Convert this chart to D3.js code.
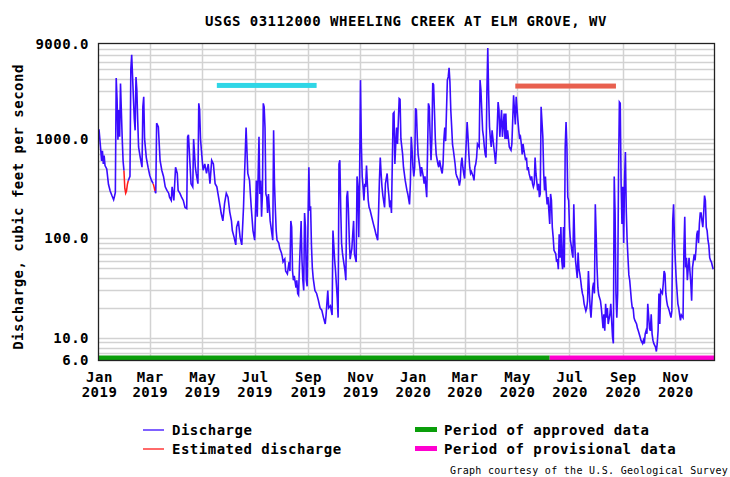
<!DOCTYPE html>
<html lang="en">
<head>
<meta charset="UTF-8">
<title>USGS 03112000 Wheeling Creek at Elm Grove, WV</title>
<style>
  body { margin: 0; background: #fff; }
  svg { display: block; }
  .lbl { font-family: "DejaVu Sans Mono", monospace; font-weight: bold; font-size: 14px; letter-spacing: 0.5px; fill: #000; }
  .small { font-family: "DejaVu Sans Mono", monospace; font-size: 10px; letter-spacing: 0.3px; fill: #000; }
</style>
</head>
<body>
<svg id="chart" width="730" height="477"></svg>
<script src="https://d3js.org/d3.v7.min.js"></script>
<script>
// daily discharge, [day since 2019-01-01, cfs]; null = gap where estimated values apply
var discharge2019 = [
  [0,1250],[2,780],[3,600],[4,760],[5,560],[6,680],[7,540],[9,500],[11,350],[13,300],[15,270],[17,245],[18,265],[19,290],
  [20,4100],[21,2500],[22,980],[23,1950],[24,1050],[25,3600],[26,1900],[27,1000],[28,600],[29,480],[30,null],
  [34,380],[35,400],[36,420],[37,5000],[38,7000],[39,4300],[40,2600],[41,1600],[42,1220],[43,4200],[44,3100],[45,1540],
  [46,830],[48,650],[50,520],[51,2100],[52,2650],[53,1000],[55,650],[57,520],[59,430],[61,383],[63,355],[64,null],
  [65,300],[66,285],[67,1440],[69,1320],[71,610],[73,485],[75,420],[77,330],[79,304],[81,285],[82,260],[84,241],
  [85,330],[87,241],[89,520],[91,450],[92,304],[94,285],[96,260],[98,241],[100,205],[102,200],[103,1050],[104,1100],
  [106,520],[107,355],[109,330],[110,1000],[112,520],[113,450],[115,355],[116,2280],[117,1950],[118,1000],[120,610],
  [121,485],[123,560],[125,450],[127,560],[129,355],[131,610],[133,560],[135,355],[137,330],[139,260],[141,205],
  [142,180],[144,150],[146,225],[148,285],[150,260],[152,185],[154,150],[155,120],[157,103],[159,86],[160,130],
  [162,150],[164,103],[166,86],[168,205],[169,383],[171,1300],[173,450],[175,383],[177,205],[179,120],[181,96],
  [183,383],[184,165],[186,1050],[187,280],[188,383],[189,165],[190,280],[191,2280],[192,2100],[193,1300],[194,280],
  [195,260],[196,180],[197,280],[199,150],[200,130],[202,96],[203,1220],[204,355],[205,200],[206,120],[207,96],
  [209,90],[210,80],[212,72],[213,66],[214,58],[216,62],[217,47],[219,44],[221,58],[222,47],[223,150],[224,130],
  [225,47],[226,38],[227,42],[229,32],[230,38],[231,28],[232,27],[233,51],[235,150],[236,60],[237,38],[238,30],
  [239,180],[240,130],[241,38],[242,33],[243,150],[244,520],[245,190],[246,210],[247,85],[248,51],[249,40],[251,30],
  [253,28],[255,24],[257,20],[259,19],[261,16],[263,13.8],[264,17],[266,30],[267,20],[269,21],[271,17],[272,120],
  [274,60],[275,47],[277,25],[278,16],[279,560],[280,610],[281,205],[282,90],[283,72],[284,62],[286,47],[287,38],
  [288,260],[289,300],[290,190],[291,96],[292,62],[294,80],[295,110],[296,150],[297,70],[299,58],[300,420],[301,330],
  [302,103],[303,420],[304,3900],[305,890],[306,420],[307,330],[308,241],[309,355],[310,330],[311,540],[312,355],
  [313,241],[314,205],[315,195],[317,165],[319,140],[321,120],[322,110],[324,96],[325,180],[326,383],[327,650],
  [328,450],[329,330],[330,270],[332,205],[333,355],[335,450],[336,330],[337,270],[338,205],[339,241],[340,180],
  [342,1800],[343,1850],[344,560],[345,890],[346,1300],[347,890],[348,1500],[349,2550],[350,2500],[351,1000],
  [353,700],[354,520],[356,383],[358,304],[359,280],[361,220],[362,355],[363,1050]
];
var discharge2020 = [
  [364,770],[365,520],[366,420],[367,520],[368,2030],[369,1950],[370,1050],[371,700],[373,520],[374,420],[375,520],
  [377,420],[378,355],[379,420],[380,330],[381,260],[383,2280],[384,2100],[385,1050],[386,610],[387,1000],[388,3650],
  [389,3500],[390,1900],[391,1000],[392,700],[394,560],[395,520],[396,610],[398,485],[399,450],[400,560],[401,1000],
  [402,1300],[403,950],[405,3900],[406,4200],[407,5200],[408,3700],[409,1945],[410,1330],[411,880],[412,770],
  [414,560],[415,450],[416,420],[418,383],[419,340],[420,383],[421,560],[422,650],[423,520],[424,450],[425,400],
  [426,610],[428,1480],[429,1050],[430,700],[431,520],[432,450],[433,470],[435,420],[436,383],[437,520],[438,560],
  [439,650],[440,890],[442,830],[443,3900],[444,3100],[446,1220],[447,1050],[448,830],[449,700],[450,650],[451,3100],
  [452,8200],[453,2800],[454,1330],[455,1000],[456,830],[457,1220],[458,1000],[459,830],[460,700],[461,560],[462,770],
  [463,1330],[464,2350],[465,1950],[466,1050],[467,1450],[468,1950],[469,1050],[471,1800],[472,1000],[473,1800],
  [474,1000],[475,1220],[476,1000],[477,830],[479,770],[480,890],[482,2750],[483,1950],[484,1400],[485,2650],
  [487,1540],[488,1220],[489,1000],[490,1050],[491,890],[492,700],[493,890],[494,770],[496,610],[497,650],[498,485],
  [499,520],[500,450],[502,383],[503,420],[504,355],[505,330],[506,355],[507,650],[508,450],[510,304],[511,355],
  [512,260],[513,280],[514,2100],[516,1050],[517,450],[518,304],[519,420],[520,285],[521,220],[522,260],[523,190],
  [524,140],[525,280],[526,241],[527,130],[528,103],[529,76],[531,70],[532,58],[533,62],[534,49],[535,110],[536,64],
  [537,130],[538,60],[539,49],[540,130],[541,51],[542,830],[543,1480],[544,830],[545,260],[546,241],[547,130],
  [548,96],[549,85],[550,72],[551,64],[552,220],[553,96],[554,60],[555,49],[556,40],[557,72],[558,49],[559,44],
  [560,38],[561,32],[562,28],[563,26],[564,22],[566,18.7],[567,20],[568,23.6],[569,47],[570,30],[571,20],[572,16],
  [574,32],[575,36],[576,28],[577,220],[578,110],[579,51],[580,32],[581,27],[583,23.6],[584,20],[585,16],[586,12.5],
  [587,17.3],[588,11.8],[589,22],[590,16],[591,20],[592,13.8],[594,17.3],[595,22],[596,15],[597,10.3],[598,8.8],
  [599,420],[600,180],[601,28],[602,16],[603,28],[604,450],[605,2350],[606,2280],[607,355],[608,140],[609,330],
  [610,90],[611,383],[612,740],[613,190],[614,96],[615,64],[616,43],[617,38],[618,30],[619,23.6],[620,20],[621,20],
  [622,16],[623,15],[625,13.8],[626,12.5],[627,11.8],[628,11],[629,10.3],[630,9.5],[632,8.8],[633,9.5],[634,8.8],
  [635,11],[636,11.8],[637,11],[638,22],[640,12.5],[641,11.8],[642,17.3],[643,11],[644,9.5],[645,8.8],[647,8.1],
  [648,7.3],[649,8.8],[650,11.8],[651,28],[652,13.8],[653,30],[655,28],[656,35],[657,47],[658,44],[659,28],[660,23.6],
  [661,21],[662,20],[663,18.7],[664,17.3],[665,16],[666,18.7],[667,150],[668,220],[669,103],[670,60],[671,40],
  [673,22],[674,20],[675,17],[676,15],[677,17],[679,16],[680,76],[681,165],[682,51],[683,64],[684,38],[685,50],
  [686,64],[687,47],[688,36],[689,23.6],[690,51],[692,69],[693,60],[694,76],[695,110],[696,120],[697,90],[698,140],
  [699,180],[700,180],[701,150],[702,130],[703,180],[704,270],[705,240],[706,130],[707,120],[708,96],[709,85],
  [710,64],[711,60],[712,58],[714,49]
];
// estimated discharge (red)
var estimatedJan = [[29,480],[30,320],[31,285],[32,300],[33,350],[34,380]];
var estimatedMar = [[63,355],[64,330],[65,300]];

var recordDays = 715;
var tickDates = ["2019-01-01","2019-03-01","2019-05-01","2019-07-01","2019-09-01","2019-11-01",
                 "2020-01-01","2020-03-01","2020-05-01","2020-07-01","2020-09-01","2020-11-01"];
var yTicks = [6, 10, 100, 1000, 9000];
var approvedPeriod = ["2019-01-01", "2020-06-08"];
var provisionalPeriod = ["2020-06-08", "2020-12-17"];
// highlight bars drawn over the graph: [start day, end day, cfs level]
var highlightBars = [[137, 253, 3450], [484, 601, 3400]];
var highlightColors = ["#2fd6e6", "#e8604f"];
var legendLines = ["Discharge", "Estimated discharge"];
var legendBars = ["Period of approved data", "Period of provisional data"];

var svg = d3.select("#chart");
var parse = d3.timeParse("%Y-%m-%d");
var start = parse("2019-01-01");
var toDate = function(d) { return d3.timeDay.offset(start, d); };

var plotLeft = 99, plotRight = 714, plotTop = 44, plotBottom = 360;

var x = d3.scaleTime()
    .domain([start, toDate(recordDays)])
    .range([plotLeft, plotRight]);
var y = d3.scaleLog()
    .domain([6, 9000])
    .range([plotBottom, plotTop]);

svg.append("rect").attr("width", 730).attr("height", 477).attr("fill", "#fff");

// grid
var grid = svg.append("g").attr("stroke", "#d2d2d2").attr("stroke-width", 1.5);
grid.selectAll("line.h")
    .data(y.ticks().filter(function(v) { return v > 6 && v < 9000; }))
    .enter().append("line")
    .attr("class", "h")
    .attr("x1", plotLeft).attr("x2", plotRight)
    .attr("y1", function(d) { return Math.round(y(d)) + 0.5; })
    .attr("y2", function(d) { return Math.round(y(d)) + 0.5; });
grid.selectAll("line.v")
    .data(tickDates.slice(1).map(parse))
    .enter().append("line")
    .attr("class", "v")
    .attr("y1", plotTop).attr("y2", plotBottom)
    .attr("x1", function(d) { return Math.round(x(d)) + 0.5; })
    .attr("x2", function(d) { return Math.round(x(d)) + 0.5; });

// highlight bars
svg.selectAll("rect.hl")
    .data(highlightBars)
    .enter().append("rect")
    .attr("class", "hl")
    .attr("x", function(d) { return x(toDate(d[0])); })
    .attr("width", function(d) { return x(toDate(d[1])) - x(toDate(d[0])); })
    .attr("y", function(d) { return y(d[2]) - 2.5; })
    .attr("height", 5)
    .attr("fill", function(d, i) { return highlightColors[i]; });

// discharge lines
var line = d3.line()
    .defined(function(d) { return d[1] != null; })
    .x(function(d) { return x(toDate(d[0])); })
    .y(function(d) { return y(d[1]); });

svg.append("path")
    .datum(discharge2019.concat(discharge2020))
    .attr("fill", "none")
    .attr("stroke", "#3a0cff")
    .attr("stroke-width", 1.6)
    .attr("d", line);

[estimatedJan, estimatedMar].forEach(function(seg) {
    svg.append("path")
        .datum(seg)
        .attr("fill", "none")
        .attr("stroke", "#ff1a1a")
        .attr("stroke-width", 1.5)
        .attr("d", line);
});

// approval period bars along the bottom
svg.append("rect")
    .attr("x", x(parse(approvedPeriod[0])))
    .attr("width", x(parse(approvedPeriod[1])) - x(parse(approvedPeriod[0])))
    .attr("y", plotBottom - 4.5).attr("height", 4.5)
    .attr("fill", "#0a9e0a");
svg.append("rect")
    .attr("x", x(parse(provisionalPeriod[0])))
    .attr("width", x(parse(provisionalPeriod[1])) - x(parse(provisionalPeriod[0])))
    .attr("y", plotBottom - 4.5).attr("height", 4.5)
    .attr("fill", "#ff00d0");

// frame
svg.append("rect")
    .attr("x", plotLeft - 0.5).attr("y", plotTop - 0.5)
    .attr("width", plotRight - plotLeft + 1).attr("height", plotBottom - plotTop + 1)
    .attr("fill", "none")
    .attr("stroke", "#222")
    .attr("stroke-width", 1.3);

// y axis
var yAxis = svg.append("g")
    .attr("transform", "translate(" + plotLeft + ",0)")
    .call(d3.axisLeft(y).tickValues(yTicks).tickFormat(d3.format(".1f")).tickSize(0).tickPadding(10));
yAxis.select(".domain").remove();
yAxis.selectAll("text").attr("class", "lbl");
yAxis.attr("font-family", null).attr("font-size", null);

// x axis, month over year
var xAxis = svg.append("g")
    .attr("transform", "translate(0," + plotBottom + ")")
    .call(d3.axisBottom(x).tickValues(tickDates.map(parse)).tickSize(0).tickFormat(""));
xAxis.select(".domain").remove();
xAxis.attr("font-family", null).attr("font-size", null);
xAxis.selectAll(".tick text").remove();
xAxis.selectAll(".tick").each(function(d) {
    var t = d3.select(this).append("text")
        .attr("class", "lbl")
        .attr("text-anchor", "middle");
    t.append("tspan").attr("x", 0).attr("y", 22).text(d3.timeFormat("%b")(d));
    t.append("tspan").attr("x", 0).attr("y", 37).text(d3.timeFormat("%Y")(d));
});

// titles
svg.append("text")
    .attr("class", "lbl")
    .attr("x", 406).attr("y", 26)
    .attr("text-anchor", "middle")
    .text("USGS 03112000 WHEELING CREEK AT ELM GROVE, WV");

svg.append("text")
    .attr("class", "lbl")
    .attr("transform", "translate(23,207) rotate(-90)")
    .attr("text-anchor", "middle")
    .text("Discharge, cubic feet per second");

// legend
var legendLineColors = ["#3a0cff", "#ff1a1a"];
var legendBarColors = ["#0a9e0a", "#ff00d0"];
var lg = svg.append("g");
legendLines.forEach(function(name, i) {
    var yy = 430 + i * 19;
    lg.append("line").attr("x1", 143).attr("x2", 164).attr("y1", yy).attr("y2", yy)
        .attr("stroke", legendLineColors[i]).attr("stroke-width", 1.3);
    lg.append("text").attr("class", "lbl").attr("x", 172).attr("y", yy + 5).text(name);
});
legendBars.forEach(function(name, i) {
    var yy = 430 + i * 19;
    lg.append("rect").attr("x", 415).attr("y", yy - 3).attr("width", 22).attr("height", 5)
        .attr("fill", legendBarColors[i]);
    lg.append("text").attr("class", "lbl").attr("x", 444).attr("y", yy + 5).text(name);
});
svg.append("text")
    .attr("class", "small")
    .attr("x", 450).attr("y", 474)
    .text("Graph courtesy of the U.S. Geological Survey");
</script>
</body>
</html>
